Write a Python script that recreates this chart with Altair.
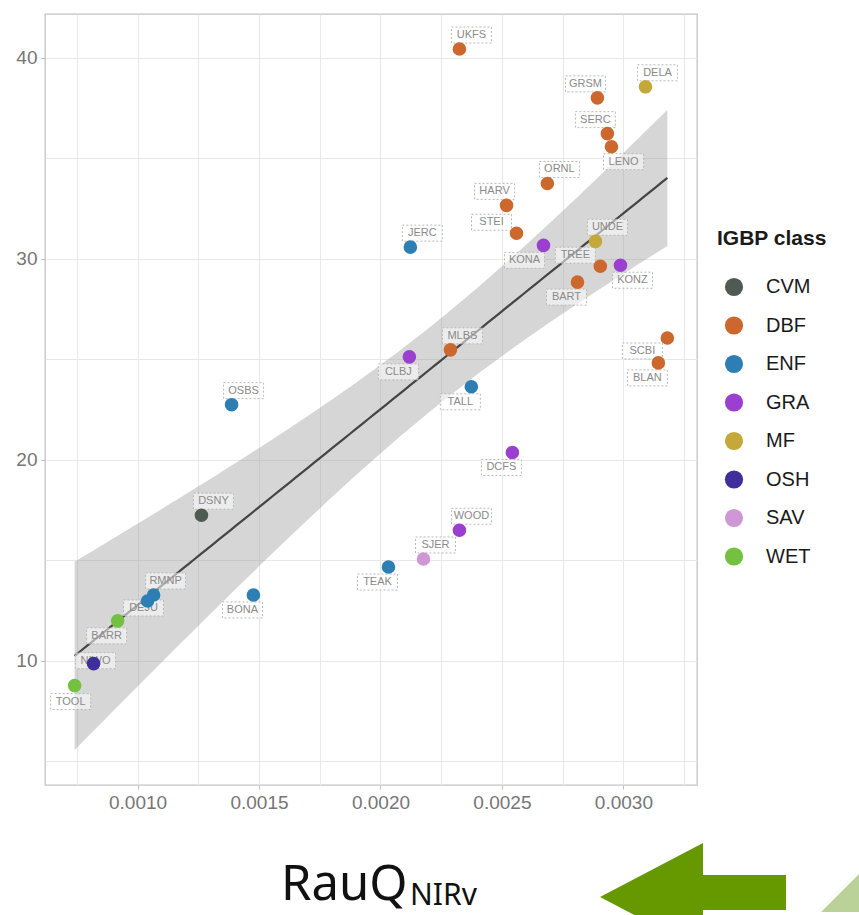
import altair as alt
import numpy as np
import pandas as pd

# ---------------- data ----------------
sites = ["UKFS", "GRSM", "DELA", "SERC", "LENO", "ORNL", "HARV", "STEI", "JERC", "KONA",
         "UNDE", "TREE", "KONZ", "BART", "SCBI", "BLAN", "MLBS", "CLBJ", "TALL", "OSBS",
         "DCFS", "DSNY", "WOOD", "SJER", "TEAK", "BONA", "RMNP", "DEJU", "BARR", "NIWO", "TOOL"]
igbp = ["DBF", "DBF", "MF", "DBF", "DBF", "DBF", "DBF", "DBF", "ENF", "GRA",
        "MF", "DBF", "GRA", "DBF", "DBF", "DBF", "DBF", "GRA", "ENF", "ENF",
        "GRA", "CVM", "GRA", "SAV", "ENF", "ENF", "ENF", "ENF", "WET", "OSH", "WET"]
rauq = [0.002325, 0.002893, 0.003091, 0.002934, 0.002951, 0.002687, 0.002519, 0.002560, 0.002123, 0.002671,
        0.002885, 0.002905, 0.002988, 0.002811, 0.003181, 0.003144, 0.002288, 0.002119, 0.002374, 0.001387,
        0.002543, 0.001263, 0.002325, 0.002177, 0.002033, 0.001477, 0.001066, 0.001041, 0.000918, 0.000819, 0.000741]
yvals = [40.44, 38.01, 38.56, 36.23, 35.58, 33.75, 32.66, 31.27, 30.58, 30.67,
         30.87, 29.63, 29.68, 28.84, 26.06, 24.82, 25.47, 25.12, 23.63, 22.74,
         20.36, 17.24, 16.49, 15.06, 14.66, 13.27, 13.27, 12.97, 11.98, 9.85, 8.76]
# where each repelled label sits relative to its point
placement = ["NE", "NW", "NE", "NW", "SE", "NE", "NW", "W", "NE", "SSW",
             "NE", "W", "SE", "SW", "WSW", "SW", "NE", "SW", "SW", "NE",
             "SW", "NE", "NE", "NE", "SW", "SW", "NE", "S1", "SW", "C", "S"]

classes = ["CVM", "DBF", "ENF", "GRA", "MF", "OSH", "SAV", "WET"]
class_colors = ["#4f5a53", "#cc672d", "#2d7fb3", "#9a3fcf", "#c4a83a", "#3e2f9b", "#cf97d6", "#74c040"]

x_title_main = "RauQ"
x_title_sub = "NIRv"

df = pd.DataFrame({"site": sites, "IGBP class": igbp, "x": rauq, "y": yvals, "pos": placement})

# ---------------- linear fit with 95% confidence band (as geom_smooth) ----------------
xa = np.array(rauq)
ya = np.array(yvals)
n = len(xa)
xb, yb = xa.mean(), ya.mean()
sxx = ((xa - xb) ** 2).sum()
slope = ((xa - xb) * (ya - yb)).sum() / sxx
icpt = yb - slope * xb
s = np.sqrt(((ya - icpt - slope * xa) ** 2).sum() / (n - 2))
t975 = 2.045  # Student t quantile, df = 29
gx = np.linspace(xa.min(), xa.max(), 100)
gfit = icpt + slope * gx
gse = s * np.sqrt(1.0 / n + (gx - xb) ** 2 / sxx)
fit_df = pd.DataFrame({"x": gx, "fit": gfit, "lo": gfit - t975 * gse, "hi": gfit + t975 * gse})

# ggplot-style 5% expansion of the ranges
xr = xa.max() - xa.min()
x_dom = [xa.min() - 0.05 * xr, xa.max() + 0.05 * xr]
ymin = min(ya.min(), fit_df["lo"].min())
ymax = max(ya.max(), fit_df["hi"].max())
yr = ymax - ymin
y_dom = [ymin - 0.05 * yr, ymax + 0.05 * yr]

W, H = 652, 771
FONT = "Liberation Sans"

x_ticks = [0.00075 + 0.00025 * i for i in range(11)]
y_ticks = [5, 10, 15, 20, 25, 30, 35, 40]
x_major = "abs(datum.value*2000 - round(datum.value*2000)) < 0.001"
y_major = "datum.value % 10 == 0"

xscale = alt.Scale(domain=x_dom, nice=False, zero=False)
yscale = alt.Scale(domain=y_dom, nice=False, zero=False)

x_enc = alt.X("x:Q", scale=xscale, title=None,
              axis=alt.Axis(values=x_ticks, labelExpr=f"({x_major}) ? format(datum.value, '.4f') : ''",
                            tickOpacity={"condition": {"test": x_major, "value": 1}, "value": 0},
                            domain=False, tickSize=4, tickColor="#bdbdbd", labelPadding=4,
                            labelFontSize=19, labelColor="#767676", labelFont=FONT,
                            gridColor="#e8e8e8", gridWidth=1))
y_enc_axis = alt.Axis(values=y_ticks, labelExpr=f"({y_major}) ? format(datum.value, 'd') : ''",
                      tickOpacity={"condition": {"test": y_major, "value": 1}, "value": 0},
                      domain=False, tickSize=4, tickColor="#bdbdbd", labelPadding=4,
                      labelFontSize=19, labelColor="#767676", labelFont=FONT,
                      gridColor="#e8e8e8", gridWidth=1)

band = alt.Chart(fit_df).mark_area(color="#999999", opacity=0.4).encode(
    x=x_enc,
    y=alt.Y("lo:Q", scale=yscale, title=None, axis=y_enc_axis),
    y2="hi:Q",
)
line = alt.Chart(fit_df).mark_line(color="#444444", strokeWidth=2.2).encode(
    x=alt.X("x:Q", scale=xscale),
    y=alt.Y("fit:Q", scale=yscale),
)

offsets = {"NE": (12, -14), "NW": (-12, -14), "SE": (12, 15), "SW": (-11, 15),
           "W": (-25, -11), "SSW": (-19, 15), "WSW": (-25, 13), "S1": (-4, 7),
           "C": (2, -3), "S": (-4, 16)}
box_path = "M-1,-0.4L1,-0.4L1,0.4L-1,0.4Z"

label_layers = []
for code, (dx, dy) in offsets.items():
    base = alt.Chart(df).transform_filter(alt.datum.pos == code)
    box = base.mark_point(shape=box_path, size=1600, filled=True, fill="white", fillOpacity=0.55,
                          stroke="#b8b8b8", strokeWidth=1, strokeDash=[2, 2], opacity=1,
                          xOffset=dx, yOffset=dy).encode(
        x=alt.X("x:Q", scale=xscale), y=alt.Y("y:Q", scale=yscale))
    txt = base.mark_text(font=FONT, fontSize=11, color="#8a8a8a", xOffset=dx, yOffset=dy,
                         baseline="middle", align="center").encode(
        x=alt.X("x:Q", scale=xscale), y=alt.Y("y:Q", scale=yscale), text="site:N")
    label_layers += [box, txt]

points = alt.Chart(df).mark_circle(size=185, opacity=1).encode(
    x=alt.X("x:Q", scale=xscale),
    y=alt.Y("y:Q", scale=yscale),
    color=alt.Color("IGBP class:N", scale=alt.Scale(domain=classes, range=class_colors),
                    legend=alt.Legend(title="IGBP class", orient="none", legendX=672, legendY=214,
                                      titleFontSize=21, titleFontWeight="bold", titleColor="#1a1a1a",
                                      titleFont=FONT, titlePadding=28,
                                      labelFontSize=20, labelColor="#1a1a1a", labelFont=FONT,
                                      symbolType="circle", symbolSize=330, symbolOffset=7,
                                      symbolStrokeWidth=0, labelOffset=22, rowPadding=18.5,
                                      padding=0)),
)

one = pd.DataFrame({"main": [x_title_main], "sub": [x_title_sub]})
title_main = alt.Chart(one).mark_text(font="Noto Sans", fontSize=49, color="#111111",
                                      align="left", baseline="alphabetic").encode(
    text="main:N", x=alt.value(236), y=alt.value(886))
title_sub = alt.Chart(one).mark_text(font="Noto Sans", fontSize=30, color="#111111",
                                     align="left", baseline="alphabetic").encode(
    text="sub:N", x=alt.value(365), y=alt.value(891))

arrow_path = "M-1,0L0.1075,-0.58L0.1075,-0.2366L1,-0.2366L1,0.14L0.1075,0.14L0.1075,0.58Z"
arrow = alt.Chart(one).mark_point(shape=arrow_path, size=34596, filled=True, fill="#669900",
                                  opacity=1, strokeWidth=0).encode(
    x=alt.value(648), y=alt.value(883))
leaf_path = "M-1,1L1,-1L1,1Z"
leaf = alt.Chart(one).mark_point(shape=leaf_path, size=1600, filled=True, fill="#b3cd8c",
                                 opacity=0.9, strokeWidth=0).encode(
    x=alt.value(796), y=alt.value(878))

chart = alt.layer(band, line, *label_layers, points, title_main, title_sub, arrow, leaf).properties(
    width=W, height=H,
    autosize=alt.AutoSizeParams(type="none"),
    padding={"left": 45, "top": 14, "right": 162, "bottom": 130},
    background="white",
).configure_view(stroke="#c4c4c4", strokeWidth=1.3).configure_axis(labelFont=FONT)

chart.save("out.html", embed_options={"renderer": "svg", "actions": False})
